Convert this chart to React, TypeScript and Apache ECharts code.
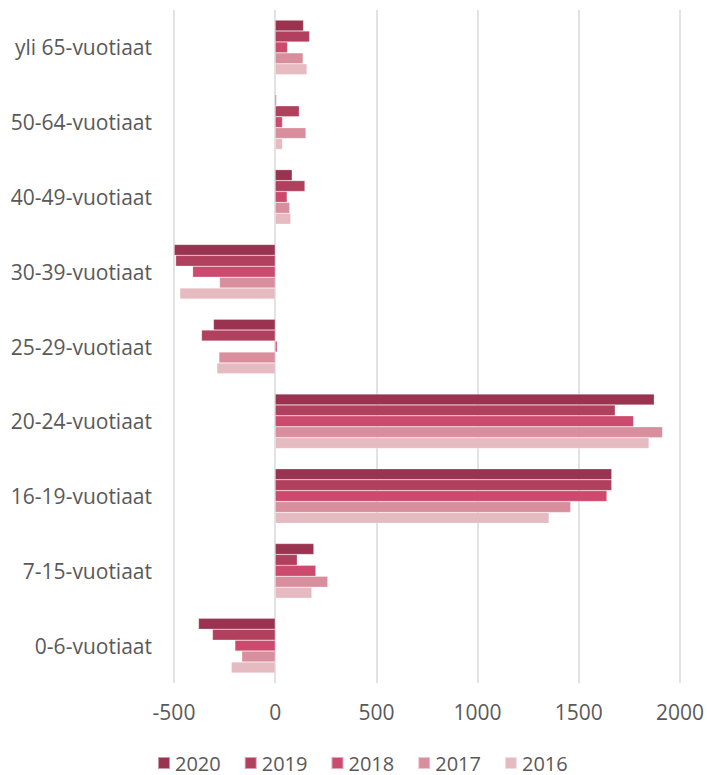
import React, { useEffect, useRef } from "react";
import * as echarts from "echarts";

const categories = [
  "yli 65-vuotiaat",
  "50-64-vuotiaat",
  "40-49-vuotiaat",
  "30-39-vuotiaat",
  "25-29-vuotiaat",
  "20-24-vuotiaat",
  "16-19-vuotiaat",
  "7-15-vuotiaat",
  "0-6-vuotiaat",
];

const years = ["2020", "2019", "2018", "2017", "2016"];

const v2020 = [140, 6, 84, -499, -305, 1873, 1663, 191, -379];
const v2019 = [170, 119, 147, -492, -364, 1680, 1663, 109, -310];
const v2018 = [61, 36, 59, -408, 10, 1771, 1639, 201, -199];
const v2017 = [138, 152, 72, -275, -278, 1914, 1460, 260, -165];
const v2016 = [157, 36, 77, -471, -288, 1847, 1353, 181, -217];

const seriesValues = [v2020, v2019, v2018, v2017, v2016];
const colors = ["#993350", "#B13F5E", "#CB4A6E", "#D98E9E", "#E6BAC1"];

const FONT = "Open Sans";

export default function App() {
  const ref = useRef<HTMLDivElement>(null);
  useEffect(() => {
    if (!ref.current) return;
    const chart = echarts.init(ref.current, undefined, { renderer: "svg" });
    chart.setOption({
      animation: false,
      textStyle: { fontFamily: FONT },
      grid: { left: 174, right: 27, top: 10, bottom: 92, containLabel: false },
      legend: {
        top: 753,
        left: 157,
        padding: 0,
        itemWidth: 12,
        itemHeight: 12,
        itemGap: 23,
        icon: "rect",
        textStyle: { fontSize: 20, lineHeight: 20, color: "#595959", fontFamily: FONT },
        data: years,
      },
      xAxis: {
        type: "value",
        min: -500,
        max: 2000,
        interval: 500,
        axisLine: { show: false },
        axisTick: { show: false },
        axisLabel: {
          fontSize: 21,
          color: "#595959",
          margin: 18,
          fontFamily: FONT,
          formatter: (v: number) => String(v),
        },
        splitLine: { show: true, lineStyle: { color: "#D9D9D9", width: 1.5 } },
      },
      yAxis: {
        type: "category",
        inverse: true,
        data: categories,
        axisLine: { show: false },
        axisTick: { show: false },
        axisLabel: { fontSize: 21, color: "#595959", margin: 22, fontFamily: FONT },
      },
      series: years.map((y, i) => ({
        name: y,
        type: "bar",
        data: seriesValues[i],
        barGap: "0%",
        barCategoryGap: "27%",
        itemStyle: { color: colors[i], borderColor: "rgba(255,255,255,0.5)", borderWidth: 0.5 },
      })),
    });
    return () => chart.dispose();
  }, []);
  return (
    <div
      ref={ref}
      style={{ position: "absolute", left: 0, top: 0, width: 707, height: 775 }}
    />
  );
}
